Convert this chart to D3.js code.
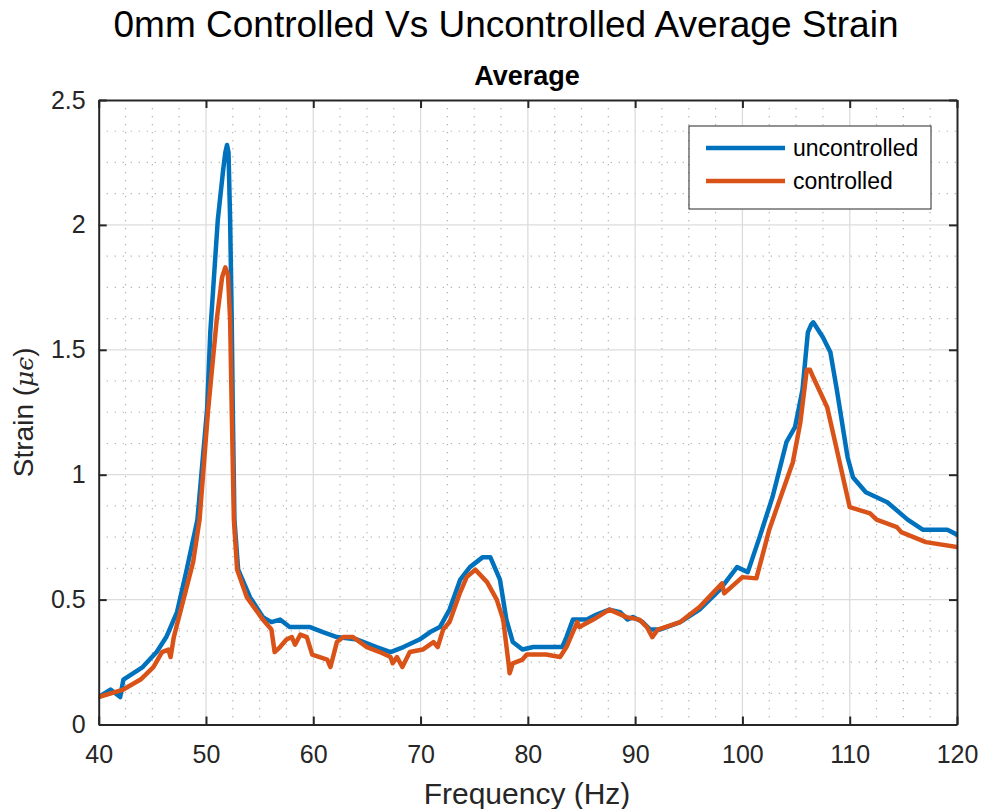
<!DOCTYPE html>
<html>
<head>
<meta charset="utf-8">
<script src="https://cdn.jsdelivr.net/npm/d3@7"></script>
<style>
  body { margin: 0; background: #fff; }
  svg { font-family: "Liberation Sans", Arial, sans-serif; }
</style>
</head>
<body>
<svg id="chart" width="983" height="809"></svg>
<script>
// data
const uncontrolledFreq = [40, 41.1, 42.0, 42.3, 43.2, 44.1, 45.4, 46.3, 47.3, 48.2, 49.2, 50.1, 50.4, 51.1, 51.6, 51.8, 51.96,
  52.1, 52.25, 52.4, 52.5, 52.65, 53.0, 54.1, 55.3, 56.1, 56.9, 57.8, 59.7, 60.9, 62.2, 64.1, 65.9, 67.2, 68.4, 69.9, 70.9,
  71.8, 72.7, 73.7, 74.6, 75.8, 76.5, 77.4, 78.0, 78.6, 79.5, 80.5, 81.7, 82.4, 83.2, 83.6, 84.2, 85.5, 86.4, 87.6,
  88.6, 89.3, 89.8, 90.7, 91.4, 92.3, 94.2, 96.0, 97.9, 99.5, 100.5, 101.6, 102.8, 104.1, 104.9, 105.6, 106.1, 106.4, 106.6,
  106.9, 107.5, 108.2, 108.8, 109.8, 110.3, 111.5, 113.5, 115.4, 116.8, 119.1, 120];
const uncontrolledStrain = [0.11, 0.14, 0.11, 0.18, 0.205, 0.23, 0.29, 0.35, 0.45, 0.62, 0.82, 1.26, 1.57, 2.02, 2.22, 2.29, 2.32,
  2.29, 2.02, 1.62, 1.26, 0.82, 0.62, 0.51, 0.43, 0.41, 0.42, 0.39, 0.39, 0.37, 0.35, 0.34, 0.31, 0.29, 0.31, 0.34, 0.37,
  0.39, 0.46, 0.58, 0.63, 0.67, 0.67, 0.58, 0.42, 0.33, 0.30, 0.31, 0.31, 0.31, 0.31, 0.35, 0.42, 0.42, 0.44, 0.46,
  0.45, 0.42, 0.43, 0.41, 0.38, 0.38, 0.41, 0.46, 0.54, 0.63, 0.61, 0.75, 0.91, 1.13, 1.19, 1.34, 1.57, 1.60, 1.61,
  1.59, 1.55, 1.49, 1.34, 1.07, 0.99, 0.93, 0.89, 0.82, 0.78, 0.78, 0.76];

const controlledFreq = [40, 42.3, 43.9, 45.1, 45.9, 46.5, 46.7, 47.0, 47.9, 48.8, 49.4, 50.2, 51.0, 51.5, 51.8, 52.05, 52.25, 52.4,
  52.6, 52.9, 53.8, 55.3, 56.1, 56.4, 56.9, 57.5, 58.0, 58.3, 58.8, 59.4, 59.9, 60.6, 61.3, 61.6, 62.2, 62.8, 63.7,
  65.0, 66.2, 67.2, 67.4, 67.8, 68.3, 69.0, 70.2, 71.2, 71.6, 72.1, 72.7, 73.7, 74.3, 75.1, 76.2, 77.1, 77.7, 78.2,
  78.3, 78.6, 79.5, 79.9, 81.7, 83.0, 83.6, 84.6, 84.8, 86.1, 87.6, 89.2, 90.4, 91.1, 91.6, 92.1, 94.2, 96.0, 98.1,
  98.3, 100.0, 101.3, 102.5, 103.8, 104.7, 105.4, 106.0, 106.3, 106.6, 107.9, 108.8, 110.0, 111.9, 112.5, 114.4, 114.8,
  117.1, 120];
const controlledStrain = [0.11, 0.14, 0.18, 0.23, 0.29, 0.30, 0.27, 0.35, 0.5, 0.65, 0.82, 1.26, 1.62, 1.79, 1.83, 1.80, 1.62, 1.26,
  0.82, 0.62, 0.51, 0.42, 0.38, 0.29, 0.31, 0.34, 0.35, 0.32, 0.36, 0.35, 0.28, 0.27, 0.26, 0.23, 0.33, 0.35, 0.35,
  0.31, 0.29, 0.27, 0.245, 0.27, 0.23, 0.29, 0.30, 0.33, 0.31, 0.38, 0.41, 0.53, 0.59, 0.62, 0.57, 0.50, 0.42, 0.245,
  0.205, 0.245, 0.26, 0.28, 0.28, 0.27, 0.31, 0.41, 0.39, 0.42, 0.46, 0.43, 0.42, 0.39, 0.35, 0.38, 0.41, 0.47, 0.565,
  0.525, 0.59, 0.585, 0.78, 0.94, 1.05, 1.21, 1.42, 1.42, 1.39, 1.27, 1.10, 0.87, 0.845, 0.82, 0.79, 0.77,
  0.73, 0.71];

const xTicks = [40, 50, 60, 70, 80, 90, 100, 110, 120];
const yTicks = [0, 0.5, 1, 1.5, 2, 2.5];
const seriesNames = ["uncontrolled", "controlled"];

const series = [
  { name: seriesNames[0], color: "#0072BD",
    points: uncontrolledFreq.map((f, i) => [f, uncontrolledStrain[i]]) },
  { name: seriesNames[1], color: "#D95319",
    points: controlledFreq.map((f, i) => [f, controlledStrain[i]]) }
];

const plotLeft = 98.7, plotRight = 957, plotTop = 100, plotBottom = 724.5;
const svg = d3.select("#chart");

const x = d3.scaleLinear().domain([40, 120]).range([plotLeft, plotRight]);
const y = d3.scaleLinear().domain([0, 2.5]).range([plotBottom, plotTop]);

// minor grid (dotted)
const minorX = d3.range(40, 120.01, 2.5).filter(v => v % 10 !== 0);
const minorY = d3.range(0, 2.501, 0.125).filter(v => Math.abs(v * 2 - Math.round(v * 2)) > 1e-6);
const grid = svg.append("g");
grid.selectAll("line.mx").data(minorX).join("line")
    .attr("x1", d => x(d)).attr("x2", d => x(d)).attr("y1", plotTop).attr("y2", plotBottom)
    .attr("stroke", "#b0b0b0").attr("stroke-width", 1.2).attr("stroke-dasharray", "1.2,6.8");
grid.selectAll("line.my").data(minorY).join("line")
    .attr("y1", d => y(d)).attr("y2", d => y(d)).attr("x1", plotLeft).attr("x2", plotRight)
    .attr("stroke", "#b0b0b0").attr("stroke-width", 1.2).attr("stroke-dasharray", "1.2,6.8");
// major grid
grid.selectAll("line.gx").data(xTicks.slice(1, -1)).join("line")
    .attr("x1", d => x(d)).attr("x2", d => x(d)).attr("y1", plotTop).attr("y2", plotBottom)
    .attr("stroke", "#dcdcdc").attr("stroke-width", 1.3);
grid.selectAll("line.gy").data(yTicks.slice(1, -1)).join("line")
    .attr("y1", d => y(d)).attr("y2", d => y(d)).attr("x1", plotLeft).attr("x2", plotRight)
    .attr("stroke", "#dcdcdc").attr("stroke-width", 1.3);

svg.append("clipPath").attr("id", "clip")
  .append("rect").attr("x", plotLeft).attr("y", plotTop)
    .attr("width", plotRight - plotLeft).attr("height", plotBottom - plotTop);

const line = d3.line().x(d => x(d[0])).y(d => y(d[1]));
svg.append("g").attr("clip-path", "url(#clip)")
  .selectAll("path").data(series).join("path")
    .attr("d", d => line(d.points))
    .attr("fill", "none")
    .attr("stroke", d => d.color)
    .attr("stroke-width", 4.5)
    .attr("stroke-linejoin", "round")
    .attr("stroke-linecap", "round");

// axes, ticks inside, box on
const axisColor = "#262626";
const tickLen = 8;
const axes = svg.append("g");
axes.append("g").attr("transform", `translate(0,${plotBottom})`)
    .call(d3.axisBottom(x).tickValues(xTicks).tickSizeInner(-tickLen).tickSizeOuter(0).tickPadding(21));
axes.append("g").attr("transform", `translate(0,${plotTop})`)
    .call(d3.axisTop(x).tickValues(xTicks).tickSizeInner(-tickLen).tickSizeOuter(0).tickFormat(""));
axes.append("g").attr("transform", `translate(${plotLeft},0)`)
    .call(d3.axisLeft(y).tickValues(yTicks).tickSizeInner(-tickLen).tickSizeOuter(0).tickPadding(13)
      .tickFormat(d3.format("~g")));
axes.append("g").attr("transform", `translate(${plotRight},0)`)
    .call(d3.axisRight(y).tickValues(yTicks).tickSizeInner(-tickLen).tickSizeOuter(0).tickFormat(""));
axes.selectAll(".domain").attr("stroke", axisColor).attr("stroke-width", 2);
axes.selectAll(".tick line").attr("stroke", axisColor).attr("stroke-width", 2);
axes.selectAll(".tick text").attr("fill", axisColor).attr("font-size", 25)
    .attr("font-family", "'Liberation Sans', Arial, sans-serif");

// titles
svg.append("text").attr("x", 506).attr("y", 37).attr("text-anchor", "middle")
    .attr("font-size", 37).attr("fill", "#000").text("0mm Controlled Vs Uncontrolled Average Strain");
svg.append("text").attr("x", 527).attr("y", 85).attr("text-anchor", "middle")
    .attr("font-size", 27).attr("font-weight", "bold").attr("fill", "#000").text("Average");
svg.append("text").attr("x", 527).attr("y", 804).attr("text-anchor", "middle")
    .attr("font-size", 30).attr("fill", axisColor).text("Frequency (Hz)");
const yl = svg.append("text").attr("transform", `translate(33,${(plotTop + plotBottom) / 2}) rotate(-90)`)
    .attr("text-anchor", "middle").attr("font-size", 28).attr("fill", axisColor);
yl.append("tspan").text("Strain (");
yl.append("tspan").attr("font-style", "italic").attr("font-family", "'DejaVu Serif', serif")
    .attr("font-size", 25).text("\u03BC\u03F5");
yl.append("tspan").text(")");

// legend
const lg = svg.append("g");
lg.append("rect").attr("x", 689).attr("y", 126).attr("width", 242).attr("height", 83)
    .attr("fill", "#fff").attr("stroke", "#262626").attr("stroke-width", 1);
const items = lg.selectAll("g.item").data(series).join("g")
    .attr("transform", (d, i) => `translate(0,${148 + i * 33})`);
items.append("line").attr("x1", 706).attr("x2", 785).attr("y1", 0).attr("y2", 0)
    .attr("stroke", d => d.color).attr("stroke-width", 4.5);
items.append("text").attr("x", 793).attr("y", 8).attr("font-size", 23).attr("fill", "#000").text(d => d.name);
</script>
</body>
</html>
